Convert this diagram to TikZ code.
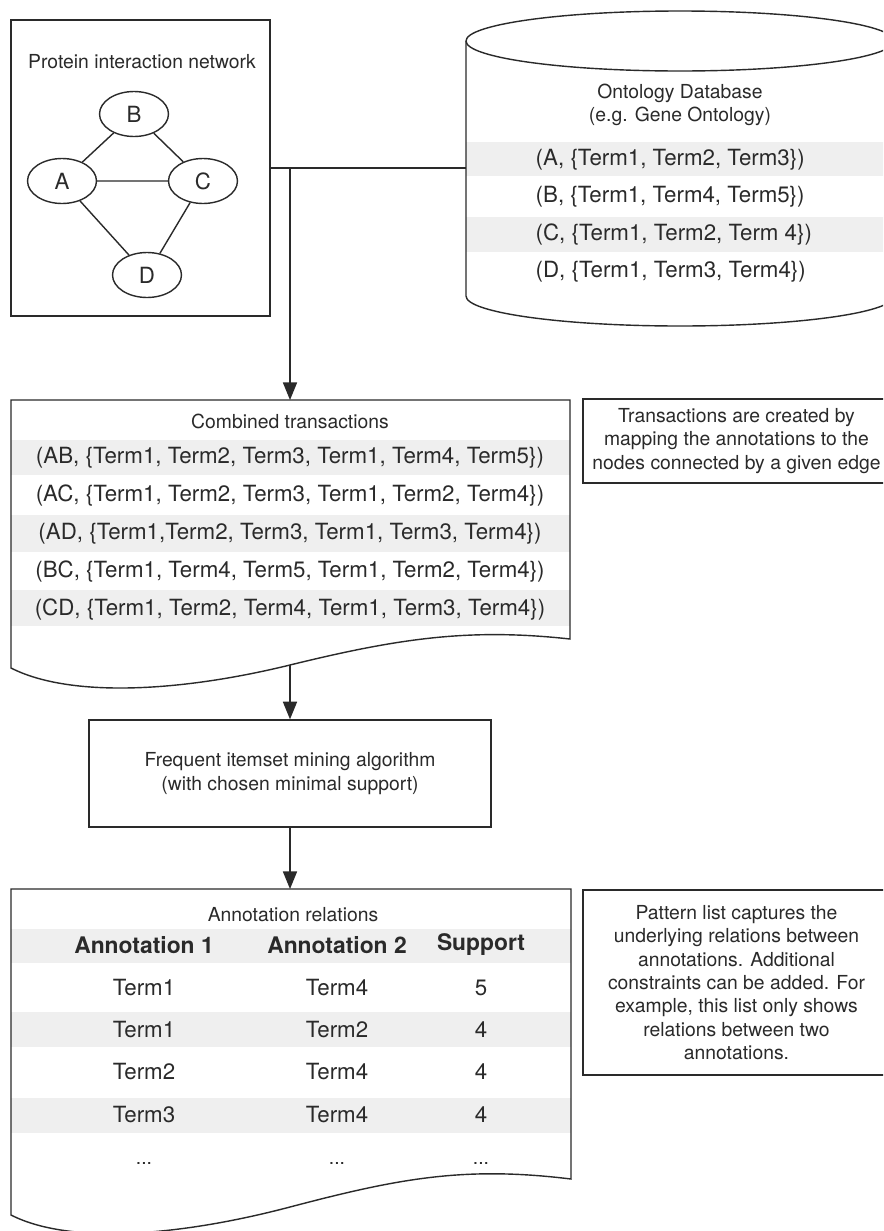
\documentclass[tikz,border=0pt]{standalone}
\usepackage{fontspec}
\setmainfont{TeX Gyre Heros}
\usetikzlibrary{arrows.meta,shapes.geometric}
\definecolor{ink}{HTML}{2A2A2A}
\definecolor{band}{HTML}{EFEFEF}
\newcommand{\smalltxt}{\fontsize{11}{13.3}\selectfont}
\newcommand{\rowtxt}{\fontsize{12.7}{15}\selectfont}
\newcommand{\headtxt}{\fontsize{13}{15}\selectfont\bfseries}

\begin{document}
\begin{tikzpicture}[x=0.02cm,y=-0.02cm,>={Triangle[length=10pt,width=8pt]},
    line width=0.8pt,color=ink,
    main node/.style={ellipse,draw,minimum width=1.38cm,minimum height=0.9cm,inner sep=0pt,font=\rowtxt},
    box node/.style={rectangle,draw,inner sep=0pt},
    note box/.style={box node,align=center,minimum width=6.14cm,font=\smalltxt},
    head text/.style={align=center,inner sep=0pt,font=\smalltxt},
    row text/.style={inner sep=0pt,font=\rowtxt},
    col head/.style={inner sep=0pt,font=\headtxt}]
    \clip (0,0) rectangle (883,1231);
    \fill[white] (0,0) rectangle (883,1231);

    % protein interaction network
    \node[box node,minimum width=5.18cm,minimum height=5.92cm] (prot) at (140.5,168) {};
    \node[head text] (ptitle) at (142,62) {Protein interaction network};
    \node[main node] (A) at (62,181) {A};
    \node[main node] (B) at (134,114) {B};
    \node[main node] (C) at (203,181) {C};
    \node[main node] (D) at (147,275) {D};
    \draw (A) -- (B) (B) -- (C) (A) -- (C) (A) -- (D) (C) -- (D);

    % ontology database
    \fill[band] (466,142) rectangle (894,176);
    \fill[band] (466,217) rectangle (894,252);
    \draw (680,41) ellipse [x radius=214,y radius=30];
    \draw (466,41) -- (466,296) arc [start angle=180,end angle=0,x radius=214,y radius=30] -- (894,41);
    \coordinate (db) at (466,168);
    \node[head text] (dbtitle) at (680,105) {Ontology Database\\(e.g. Gene Ontology)};
    \node[row text,anchor=west] (dbA) at (535,160) {(A, \{Term1, Term2, Term3\})};
    \node[row text,anchor=west] (dbB) at (535,197) {(B, \{Term1, Term4, Term5\})};
    \node[row text,anchor=west] (dbC) at (535,235) {(C, \{Term1, Term2, Term 4\})};
    \node[row text,anchor=west] (dbD) at (535,272) {(D, \{Term1, Term3, Term4\})};

    \coordinate (junc) at (290,168);
    \draw (prot.east) -- (db);

    % combined transactions
    \fill[band] (11,440) rectangle (570,475);
    \fill[band] (11,515) rectangle (570,552);
    \fill[band] (11,590) rectangle (570,626);
    \draw (11,400) -- (570,400) -- (570,639) .. controls (470,628) and (400,638) .. (290,665)
        .. controls (180,692) and (70,698) .. (11,668) -- cycle;
    \coordinate (comb) at (290,400);
    \coordinate (combbot) at (290,665);
    \node[head text] (ctitle) at (290,421) {Combined transactions};
    \node[row text] (AB) at (290,458) {(AB, \{Term1, Term2, Term3, Term1, Term4, Term5\})};
    \node[row text] (AC) at (290,496) {(AC, \{Term1, Term2, Term3, Term1, Term2, Term4\})};
    \node[row text] (AD) at (290,534) {(AD, \{Term1,Term2, Term3, Term1, Term3, Term4\})};
    \node[row text] (BC) at (290,572) {(BC, \{Term1, Term4, Term5, Term1, Term2, Term4\})};
    \node[row text] (CD) at (290,610) {(CD, \{Term1, Term2, Term4, Term1, Term3, Term4\})};
    \draw[->] (junc) -- (comb);

    \node[note box,minimum height=1.68cm] (note1) at (736.5,441)
        {Transactions are created by\\mapping the annotations to the\\nodes connected by a given edge};

    % mining step
    \node[box node,head text,minimum width=8.04cm,minimum height=2.14cm] (mine) at (290,773.5)
        {Frequent itemset mining algorithm\\(with chosen minimal support)};
    \draw[->] (combbot) -- (mine.north);

    % annotation relations
    \fill[band] (11,929) rectangle (571,963);
    \fill[band] (11,1012) rectangle (571,1047);
    \fill[band] (11,1098) rectangle (571,1133);
    \draw (11,889) -- (571,889) -- (571,1179) .. controls (465,1166) and (400,1178) .. (290,1207)
        .. controls (180,1236) and (70,1245) .. (11,1215) -- cycle;
    \coordinate (ann) at (290,889);
    \draw[->] (mine.south) -- (ann);
    \node[head text] (atitle) at (293,915) {Annotation relations};
    \node[col head] (h1) at (144,945) {Annotation 1};
    \node[col head] (h2) at (337,945) {Annotation 2};
    \node[col head] (h3) at (481,945) {Support};
    \node[row text] (r1a) at (144,988) {Term1}; \node[row text] (r1b) at (337,988) {Term4}; \node[row text] (r1s) at (481,988) {5};
    \node[row text] (r2a) at (144,1030) {Term1}; \node[row text] (r2b) at (337,1030) {Term2}; \node[row text] (r2s) at (481,1030) {4};
    \node[row text] (r3a) at (144,1072) {Term2}; \node[row text] (r3b) at (337,1072) {Term4}; \node[row text] (r3s) at (481,1072) {4};
    \node[row text] (r4a) at (144,1115) {Term3}; \node[row text] (r4b) at (337,1115) {Term4}; \node[row text] (r4s) at (481,1115) {4};
    \node[head text] (r5a) at (144,1163) {...}; \node[head text] (r5b) at (337,1163) {...}; \node[head text] (r5s) at (481,1163) {...};

    \node[note box,minimum height=3.7cm] (note2) at (736.5,982.5)
        {Pattern list captures the\\underlying relations between\\annotations. Additional\\constraints can be added. For\\example, this list only shows\\relations between two\\annotations.};
\end{tikzpicture}
\end{document}
